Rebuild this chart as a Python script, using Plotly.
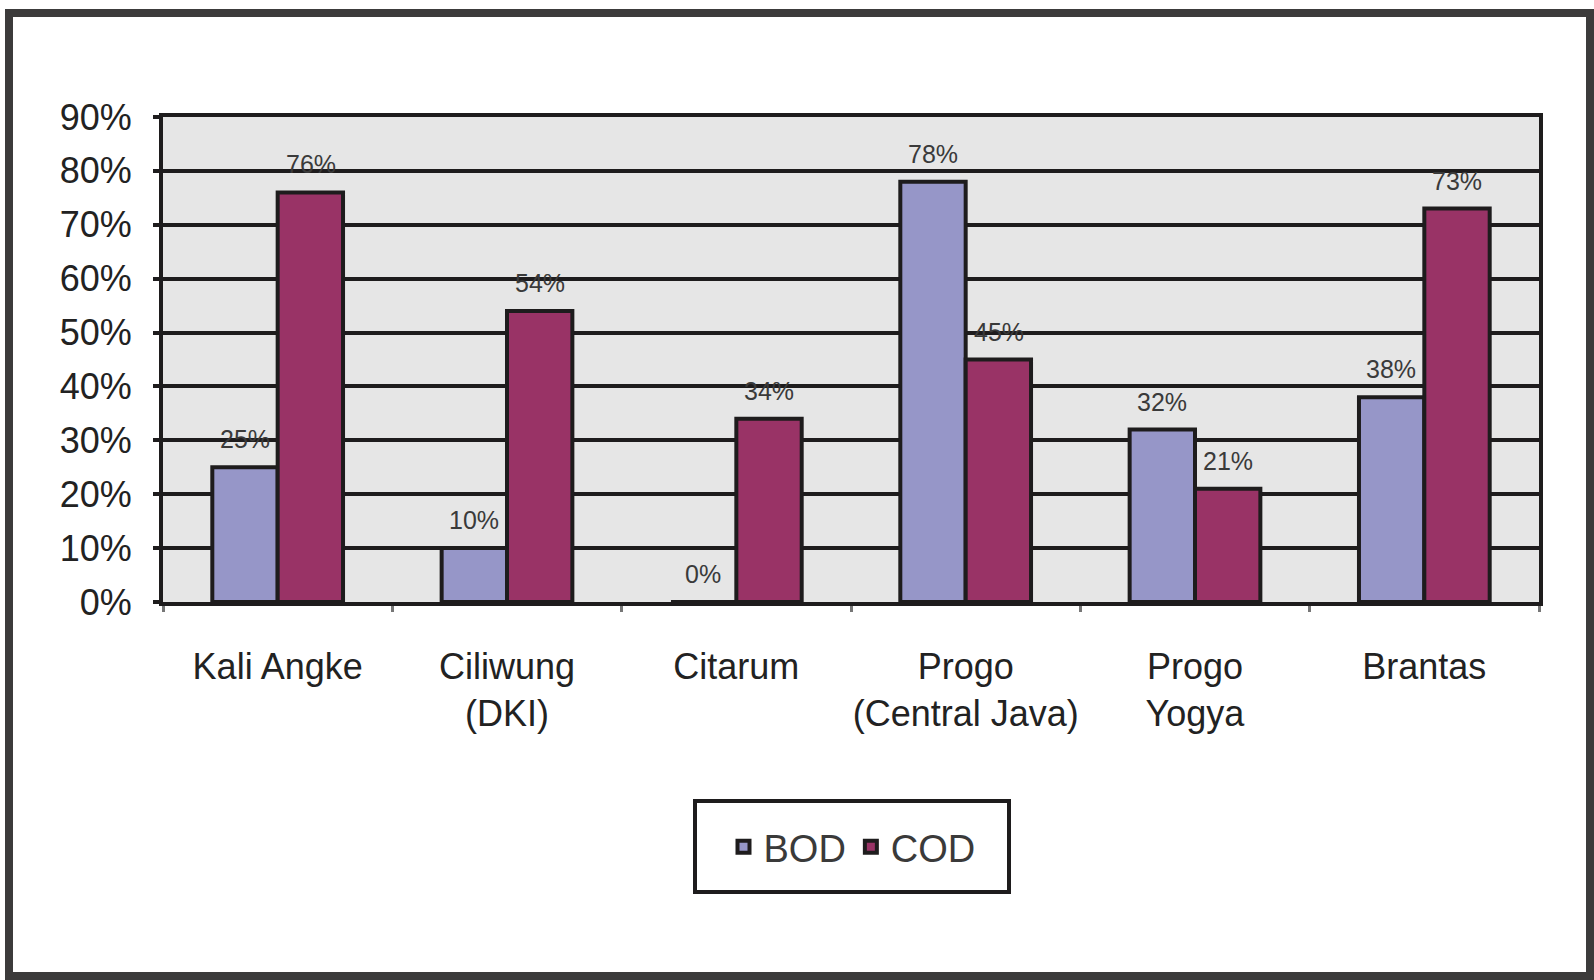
import plotly.graph_objects as go

# River monitoring stations and share of samples exceeding limits (%)
stations = ["Kali Angke", "Ciliwung<br>(DKI)", "Citarum", "Progo<br>(Central Java)",
            "Progo<br>Yogya", "Brantas"]
bod = [25, 10, 0, 78, 32, 38]
cod = [76, 54, 34, 45, 21, 73]
y_ticks = [0, 10, 20, 30, 40, 50, 60, 70, 80, 90]

W, H = 1594, 980
L, R, T, B = 163, 55, 117, 378
FONT = "Liberation Sans, Arial, sans-serif"
INK = "#1e1c1d"
LABEL_FONT = dict(size=25, color="#3a3a3a", family=FONT)


def px_x(p):
    return (p - L) / (W - L - R)


def px_y(p):
    return (H - B - p) / (H - T - B)


fig = go.Figure()
fig.add_trace(go.Bar(
    name="BOD", x=stations, y=bod,
    marker=dict(color="#9696c8", line=dict(color=INK, width=4)),
))
fig.add_trace(go.Bar(
    name="COD", x=stations, y=cod,
    marker=dict(color="#993366", line=dict(color=INK, width=4)),
))

# value labels above each bar, offset to the bar's slot within the group
for values, shift in ((bod, -33), (cod, 33)):
    for cat, v in zip(stations, values):
        fig.add_annotation(
            x=cat, y=v, xref="x", yref="y", text=f"{v}%",
            showarrow=False, xshift=shift, yshift=12, yanchor="bottom",
            font=LABEL_FONT,
        )

# outer chart frame
fig.add_shape(type="rect", xref="paper", yref="paper",
              x0=px_x(9), x1=px_x(1590), y0=px_y(976), y1=px_y(13),
              line=dict(color="#3c3b3b", width=8), layer="below")
# legend box
fig.add_shape(type="rect", xref="paper", yref="paper",
              x0=px_x(695), x1=px_x(1009), y0=px_y(892), y1=px_y(801),
              line=dict(color=INK, width=4), fillcolor="white", layer="below")

fig.update_layout(
    width=W, height=H,
    margin=dict(l=L, r=R, t=T, b=B),
    paper_bgcolor="white",
    plot_bgcolor="#e6e6e6",
    barmode="group",
    bargap=0.43,
    bargroupgap=0,
    font=dict(family=FONT, color=INK),
    showlegend=True,
    legend=dict(
        orientation="h",
        x=px_x(852), xanchor="center",
        y=px_y(847), yanchor="middle",
        font=dict(size=38, color="#3a3a3a", family=FONT),
        bgcolor="rgba(0,0,0,0)",
        borderwidth=0,
        itemwidth=30,
        traceorder="normal",
    ),
)

fig.update_xaxes(
    showline=True, linecolor=INK, linewidth=4, mirror=True,
    ticks="outside", tickson="boundaries", ticklen=6, tickcolor="#777777", tickwidth=3,
    tickfont=dict(size=36, color="#222222", family=FONT),
    tickangle=0,
    ticklabelstandoff=30,
    showgrid=False,
)
fig.update_yaxes(
    range=[0, 90], tickvals=y_ticks, ticktext=[f"{v}%" for v in y_ticks],
    showline=True, linecolor=INK, linewidth=4, mirror=True,
    ticks="outside", ticklen=6, tickcolor=INK, tickwidth=4,
    tickfont=dict(size=36, color="#222222", family=FONT),
    ticklabelstandoff=14,
    showgrid=True, gridcolor=INK, gridwidth=4,
    zeroline=False,
)

fig.write_html("out.html")
